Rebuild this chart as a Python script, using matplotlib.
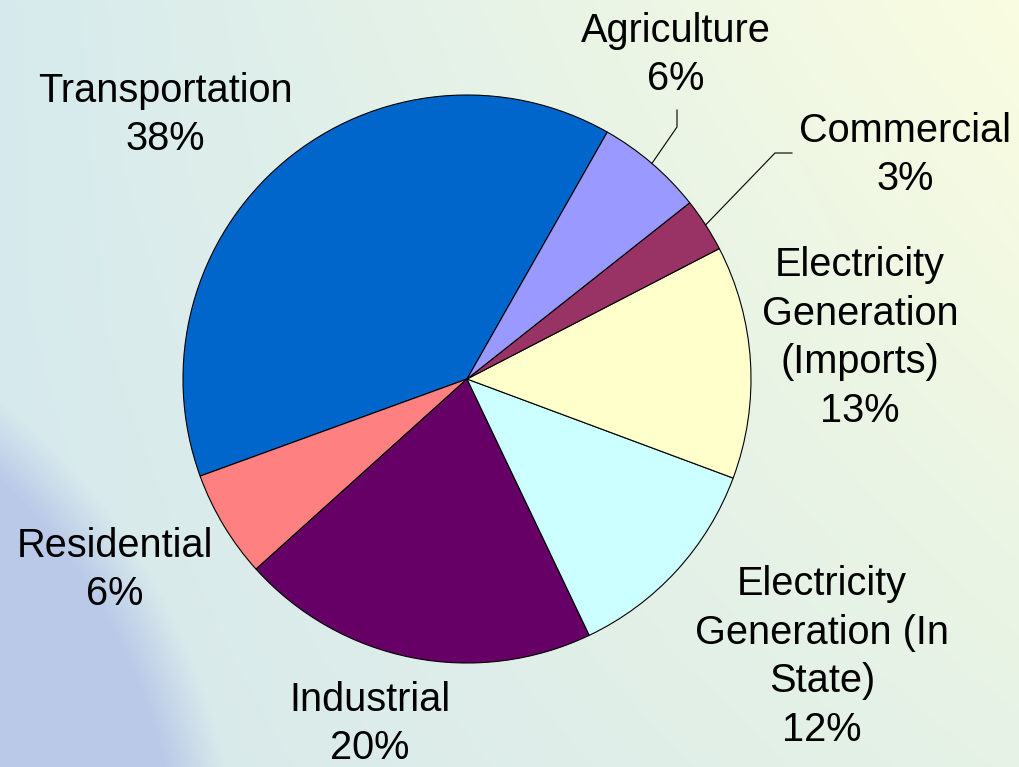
import numpy as np
import matplotlib
matplotlib.use("Agg")
import matplotlib.pyplot as plt

# ---- data ----
categories = ["Transportation", "Residential", "Industrial",
              "Electricity\nGeneration (In\nState)",
              "Electricity\nGeneration\n(Imports)",
              "Commercial", "Agriculture"]
percents = [38, 6, 20, 12, 13, 3, 6]
colors = ["#0066CC", "#FF8080", "#660066", "#CCFFFF", "#FFFFCC", "#993366", "#9999FF"]

W, H = 1019, 767
fig = plt.figure(figsize=(W / 100, H / 100), dpi=100)
plt.rcParams['font.family'] = ['Liberation Sans', 'DejaVu Sans']

# ---- background gradient ----
bg = fig.add_axes([0, 0, 1, 1], zorder=-10)
yy, xx = np.mgrid[0:H, 0:W]
tx = (xx / W)[..., None]
ty = (yy / H)[..., None]
TL = np.array([0.84, 0.92, 0.93])
TR = np.array([0.98, 0.99, 0.88])
BL = np.array([0.84, 0.91, 0.93])
BR = np.array([0.90, 0.95, 0.90])
img = (TL * (1 - tx) * (1 - ty) + TR * tx * (1 - ty)
       + BL * (1 - tx) * ty + BR * tx * ty)
blue = np.array([0.73, 0.79, 0.91])
dist = np.sqrt((xx + 400.0) ** 2 + (yy - 900.0) ** 2)
m = np.clip((640 - dist) / 60.0, 0, 1)[..., None]
img = img * (1 - m) + blue * m
bg.imshow(img, aspect='auto', extent=[0, W, H, 0])
bg.set_xlim(0, W)
bg.set_ylim(H, 0)
bg.axis('off')

# ---- pie ----
cx, cy, R = 467, 379, 284
ax = fig.add_axes([(cx - R) / W, (H - cy - R) / H, 2 * R / W, 2 * R / H])
wedges, _ = ax.pie(percents, colors=colors, startangle=60.4,
                   radius=1.0,
                   wedgeprops=dict(edgecolor='black', linewidth=0.8))
ax.set_xlim(-1, 1)
ax.set_ylim(-1, 1)
ax.set_aspect('equal')
ax.axis('off')

labels = [f"{c}\n{p}%" for c, p in zip(categories, percents)]
# label centre positions in pixels (layout)
label_pos = [(165, 115), (115, 570), (370, 724), (822, 657), (860, 338), (905, 155), (676, 55)]
for lab, (px, py) in zip(labels, label_pos):
    fig.text(px / W, 1 - py / H, lab, ha='center', va='center', fontsize=28.6,
             linespacing=1.36, color='black')

# leader lines for small slices (Agriculture, Commercial)
for idx, pts in [(6, [(677, 127), (677, 110)]), (5, [(775, 153), (792, 153)])]:
    w = wedges[idx]
    mid = np.deg2rad((w.theta1 + w.theta2) / 2)
    sx = cx + R * np.cos(mid)
    sy = cy - R * np.sin(mid)
    allp = [(sx, sy)] + pts
    xs = [p[0] / W for p in allp]
    ys = [1 - p[1] / H for p in allp]
    fig.add_artist(plt.Line2D(xs, ys, color='black', linewidth=0.8))

fig.savefig("out.png", dpi=100)
